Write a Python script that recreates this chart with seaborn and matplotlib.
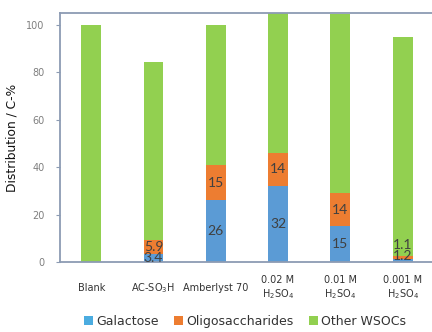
import matplotlib
matplotlib.use("Agg")
import matplotlib.pyplot as plt
import seaborn as sns
import numpy as np
import pandas as pd
from matplotlib.patches import Patch

# Carbon distribution of water-soluble products per catalyst condition
categories = ["Blank", "AC-SO$_3$H", "Amberlyst 70",
              "0.02 M\nH$_2$SO$_4$", "0.01 M\nH$_2$SO$_4$", "0.001 M\nH$_2$SO$_4$"]
galactose = [0.0, 3.4, 26, 32, 15, 1.2]
oligosaccharides = [0.0, 5.9, 15, 14, 14, 1.1]
other_wsocs = [100, 75.2, 59, 59.5, 75.5, 92.7]

series_names = ["Galactose", "Oligosaccharides", "Other WSOCs"]
colors = ["#5B9BD5", "#ED7D31", "#92D050"]
legend_colors = ["#4BACE0", "#ED7D31", "#92D050"]

sns.set_theme(style="white")
plt.rcParams["font.family"] = ["DejaVu Sans"]
plt.rcParams["mathtext.fontset"] = "dejavusans"

df = pd.DataFrame({
    "cat": categories,
    "gal": galactose,
    "oligo": oligosaccharides,
    "other": other_wsocs,
})
df["cum_oligo"] = df["gal"] + df["oligo"]
df["cum_total"] = df["cum_oligo"] + df["other"]

fig = plt.figure(figsize=(4.32, 3.32), dpi=100)
ax = fig.add_axes([0.139, 0.211, 0.865, 0.750])

# stacked bars drawn as overlapping cumulative totals
for col, c in zip(["cum_total", "cum_oligo", "gal"], colors[::-1]):
    sns.barplot(data=df, x="cat", y=col, color=c, width=0.32,
                saturation=1, ax=ax, linewidth=0)

ax.set_ylim(0, 105)
ax.set_xlim(-0.5, 5.5)
ax.set_yticks([0, 20, 40, 60, 80, 100])
ax.set_xlabel("")
ax.set_ylabel("Distribution / C-%", fontsize=8.8, color="#111111")
ax.yaxis.set_label_coords(-0.11, 0.5)

spine_col = "#8C9BB3"
for side in ["left", "bottom", "top", "right"]:
    ax.spines[side].set_color(spine_col)
    ax.spines[side].set_linewidth(1.3)

ax.tick_params(axis="y", which="both", left=True, length=3, width=0.8,
               color=spine_col, labelsize=7, labelcolor="#7f7f7f", pad=8)
ax.tick_params(axis="x", bottom=False, labelsize=7, labelcolor="#333333", pad=13)
for lbl in ax.get_xticklabels():
    lbl.set_verticalalignment("center")
    lbl.set_multialignment("center")

# segment value labels
label_kw = dict(ha="center", va="center", fontsize=10, color="#404040",
                family=["Lato", "DejaVu Sans"])
for i in range(len(categories)):
    g, o = galactose[i], oligosaccharides[i]
    if g <= 0 and o <= 0:
        continue
    gy, oy = g / 2, g + o / 2
    if g + o < 4:
        gy, oy = 2.3, 7.3
    ax.text(i, gy, f"{g:g}", **label_kw)
    ax.text(i, oy, f"{o:g}", **label_kw)

handles = [Patch(facecolor=c, edgecolor="none") for c in legend_colors]
fig.legend(handles, series_names, loc="center", bbox_to_anchor=(0.567, 0.033),
           ncol=3, frameon=False, fontsize=9, handlelength=0.75,
           handleheight=0.75, handletextpad=0.25, columnspacing=1.2,
           labelcolor="#333333")

fig.savefig("out.png", dpi=100)
